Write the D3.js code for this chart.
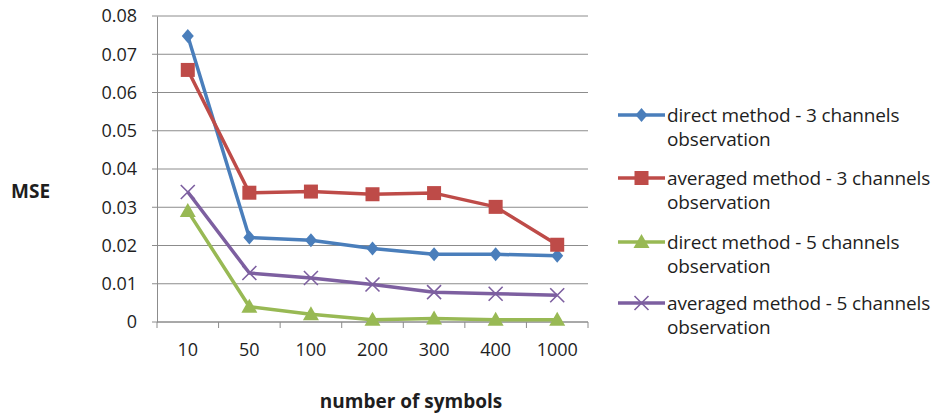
<!DOCTYPE html>
<html>
<head>
<meta charset="utf-8">
<script src="https://cdn.jsdelivr.net/npm/d3@7"></script>
<style>
  body { margin: 0; background: #fff; }
  text { font-family: "Open Sans", "Noto Sans", sans-serif; fill: #1e1e1e; }
</style>
</head>
<body>
<div id="chart"></div>
<script>
// categories (number of symbols)
var categories = ["10", "50", "100", "200", "300", "400", "1000"];
var yTicks = [0, 0.01, 0.02, 0.03, 0.04, 0.05, 0.06, 0.07, 0.08];

// MSE per series
var directThree = [0.0748, 0.0221, 0.0214, 0.0192, 0.0177, 0.0177, 0.0173];
var averagedThree = [0.0659, 0.0338, 0.0341, 0.0334, 0.0337, 0.0301, 0.0202];
var directFive = [0.0290, 0.0040, 0.0020, 0.0006, 0.0009, 0.0006, 0.0006];
var averagedFive = [0.0340, 0.0128, 0.0115, 0.0098, 0.0078, 0.0074, 0.0070];

var seriesNames = [
  ["direct method - 3 channels", "observation"],
  ["averaged method - 3 channels", "observation"],
  ["direct method - 5 channels", "observation"],
  ["averaged method - 5 channels", "observation"]
];

var W = 938, H = 415;
var plotLeft = 157, plotRight = 588, plotTop = 16, plotBottom = 322;

var svg = d3.select("#chart").append("svg").attr("width", W).attr("height", H);

var x = d3.scaleBand().domain(categories).range([plotLeft, plotRight]);
var y = d3.scaleLinear().domain([0, 0.08]).range([plotBottom, plotTop]);

// gridlines
svg.append("g").selectAll("line").data(yTicks).enter().append("line")
  .attr("x1", plotLeft - 5).attr("x2", plotRight)
  .attr("y1", function(d){ return y(d); }).attr("y2", function(d){ return y(d); })
  .style("stroke", "#8c8c8c").style("stroke-width", 1);

// axes
var yAxis = d3.axisLeft(y).tickValues(yTicks).tickSize(0).tickPadding(20)
  .tickFormat(function(d){ return d === 0 ? "0" : d3.format(".2f")(d); });
var gy = svg.append("g").attr("transform", "translate(" + plotLeft + ",0)").call(yAxis);
gy.select(".domain").style("stroke", "#8c8c8c");
gy.selectAll("text").style("font-size", "18px").style("fill", "#1e1e1e").style("font-family", "Open Sans");

var xAxis = d3.axisBottom(x).tickSize(0).tickPadding(21);
var gx = svg.append("g").attr("transform", "translate(0," + plotBottom + ")").call(xAxis);
gx.select(".domain").remove();
gx.selectAll("text").style("font-size", "18px").style("fill", "#1e1e1e").style("font-family", "Open Sans");
svg.append("line").attr("x1", plotLeft).attr("x2", plotRight).attr("y1", plotBottom).attr("y2", plotBottom)
  .style("stroke", "#8c8c8c");
// tick marks between categories
var bounds = categories.map(function(c){ return x(c); }).concat([plotRight]);
svg.append("g").selectAll("line").data(bounds).enter().append("line")
  .attr("x1", function(d){ return d; }).attr("x2", function(d){ return d; })
  .attr("y1", plotBottom).attr("y2", plotBottom + 6)
  .style("stroke", "#8c8c8c");

// axis titles
svg.append("text").attr("x", 11).attr("y", 198).text("MSE")
  .style("font-size", "19px").style("font-weight", "bold");
svg.append("text").attr("x", 411).attr("y", 408).attr("text-anchor", "middle")
  .text("number of symbols").style("font-size", "19px").style("font-weight", "bold");

var series = [
  { values: directThree, color: "#4a7ebb", marker: "diamond" },
  { values: averagedThree, color: "#be4b48", marker: "square" },
  { values: directFive, color: "#98b954", marker: "triangle" },
  { values: averagedFive, color: "#7d5fa0", marker: "cross" }
];

function drawMarker(g, kind, color) {
  if (kind === "diamond") {
    g.append("path").attr("d", "M0,-7L6,0L0,7L-6,0Z").style("fill", color);
  } else if (kind === "square") {
    g.append("rect").attr("x", -7).attr("y", -7).attr("width", 14).attr("height", 14).style("fill", color);
  } else if (kind === "triangle") {
    g.append("path").attr("d", "M0,-8L8,6L-8,6Z").style("fill", color);
  } else {
    g.append("path").attr("d", "M-7,-7L7,7M-7,7L7,-7").style("stroke", color).style("stroke-width", 1.6).style("fill", "none");
  }
}

var line = d3.line()
  .x(function(d, i){ return x(categories[i]) + x.bandwidth() / 2; })
  .y(function(d){ return y(d); });

series.forEach(function(s){
  svg.append("path").datum(s.values).attr("d", line)
    .style("fill", "none").style("stroke", s.color).style("stroke-width", 3.5)
    .style("stroke-linejoin", "round");
  s.values.forEach(function(v, i){
    var g = svg.append("g").attr("transform", "translate(" + (x(categories[i]) + x.bandwidth() / 2) + "," + y(v) + ")");
    drawMarker(g, s.marker, s.color);
  });
});

// legend
var legendY = [115, 178, 242, 303];
series.forEach(function(s, i){
  var ly = legendY[i];
  svg.append("line").attr("x1", 618).attr("x2", 665).attr("y1", ly).attr("y2", ly)
    .style("stroke", s.color).style("stroke-width", 3.5);
  var g = svg.append("g").attr("transform", "translate(641.5," + ly + ")");
  drawMarker(g, s.marker, s.color);
  svg.append("text").attr("x", 667).attr("y", ly + 7)
    .style("font-size", "19px").style("letter-spacing", "-0.15px")
    .text(seriesNames[i][0]);
  svg.append("text").attr("x", 667).attr("y", ly + 31)
    .style("font-size", "19px").style("letter-spacing", "-0.15px")
    .text(seriesNames[i][1]);
});
</script>
</body>
</html>
